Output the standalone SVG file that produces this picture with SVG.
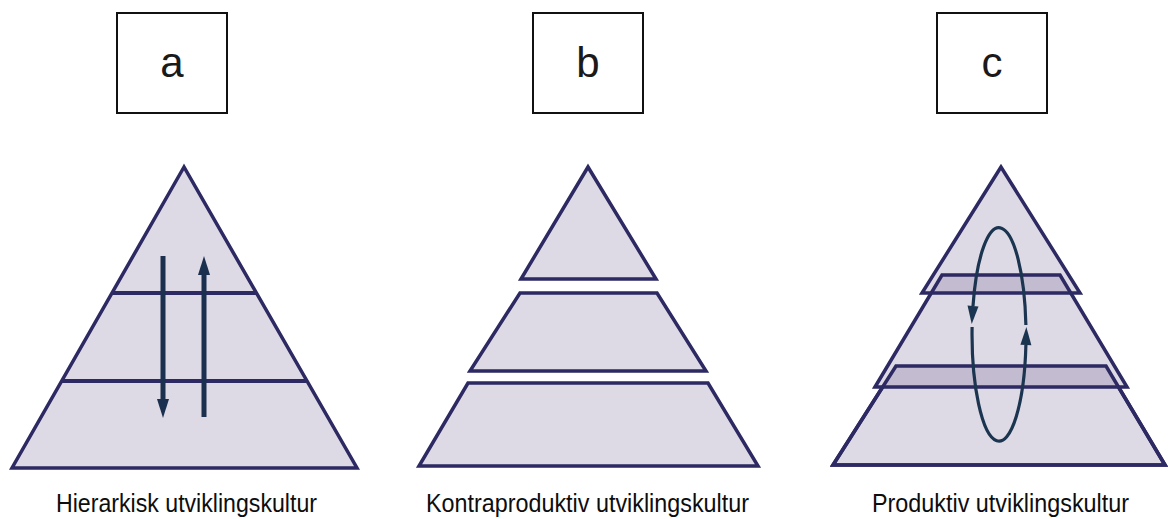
<svg xmlns="http://www.w3.org/2000/svg" width="1168" height="519" viewBox="0 0 1168 519">
<style>
.box{fill:#fff;stroke:#111;stroke-width:2}
.letter{font-family:"Liberation Sans",Arial,sans-serif;font-size:42px;fill:#1a1a1a;text-anchor:middle}
.cap{font-family:"Liberation Sans",Arial,sans-serif;font-size:26px;fill:#0d0d0d;text-anchor:middle}
.pyr{fill:#dedae5;stroke:#2d2962;stroke-width:3.5;stroke-linejoin:miter}
.ov{fill:#c3bbcf;stroke:none}
.edge{fill:none;stroke:#2d2962;stroke-width:3.5}
.sep{stroke:#2d2962;stroke-width:4}
.arr{stroke:#1b2f4e;stroke-width:5;fill:none}
.head{fill:#1b2f4e}
.loop{stroke:#1b3550;stroke-width:3.2;fill:none}
</style>
<defs>
<marker id="ah" markerUnits="userSpaceOnUse" viewBox="-1 -7 20 14" markerWidth="20" markerHeight="14" refX="0" refY="0" orient="auto" overflow="visible">
<path d="M0,-5.5 L18,0 L0,5.5 z" fill="#1b3550"/>
</marker>
</defs>

<g id="label-a"><rect class="box" x="117" y="13" width="110" height="100"/><text class="letter" x="172" y="77">a</text></g>
<g id="label-b"><rect class="box" x="533" y="13" width="110" height="100"/><text class="letter" x="588" y="77">b</text></g>
<g id="label-c"><rect class="box" x="937" y="13" width="110" height="100"/><text class="letter" x="992" y="77">c</text></g>

<g id="pyramid-a">
<polygon class="pyr" points="184,167 12,468 357,468"/>
<line class="sep" x1="112" y1="293" x2="256" y2="293"/>
<line class="sep" x1="62" y1="381" x2="306" y2="381"/>
</g>

<g id="pyramid-b">
<polygon class="pyr" points="588,167 521,279 656,279"/>
<polygon class="pyr" points="520,293 657,293 706,371 470,371"/>
<polygon class="pyr" points="468,383 708,383 758,466 419,466"/>
</g>

<g id="pyramid-c">
<polygon class="pyr" points="833,465 896,366 1106,366 1165,465"/>
<polygon class="pyr" points="875,387 942,275 1060,275 1127,387" style="stroke:none"/>
<polygon class="pyr" points="1001,167 922,293 1080,293" style="stroke:none"/>
<polygon class="ov" points="942,275 1060,275 1070.8,293 931.2,293"/>
<polygon class="ov" points="896,366 1106,366 1119,387 882.6,387"/>
<polygon class="edge" points="833,465 896,366 1106,366 1165,465"/>
<polygon class="edge" points="875,387 942,275 1060,275 1127,387"/>
<polygon class="edge" points="1001,167 922,293 1080,293"/>
</g>

<g id="connectors">
<line class="arr" x1="163" y1="256" x2="163" y2="402"/>
<polygon class="head" points="157,399 169,399 163,418"/>
<line class="arr" x1="204" y1="417" x2="204" y2="272"/>
<polygon class="head" points="198,275 210,275 204,256"/>
<path class="loop" d="M1025.9,325 A27,107 0 0 0 973,306" marker-end="url(#ah)"/>
<path class="loop" d="M972.1,327 A27,107 0 0 0 1025.9,345" marker-end="url(#ah)"/>
</g>

<g id="captions">
<text class="cap" x="186.5" y="512" textLength="261" lengthAdjust="spacingAndGlyphs">Hierarkisk utviklingskultur</text>
<text class="cap" x="587.5" y="512" textLength="323" lengthAdjust="spacingAndGlyphs">Kontraproduktiv utviklingskultur</text>
<text class="cap" x="1000.5" y="512" textLength="257" lengthAdjust="spacingAndGlyphs">Produktiv utviklingskultur</text>
</g>
</svg>
